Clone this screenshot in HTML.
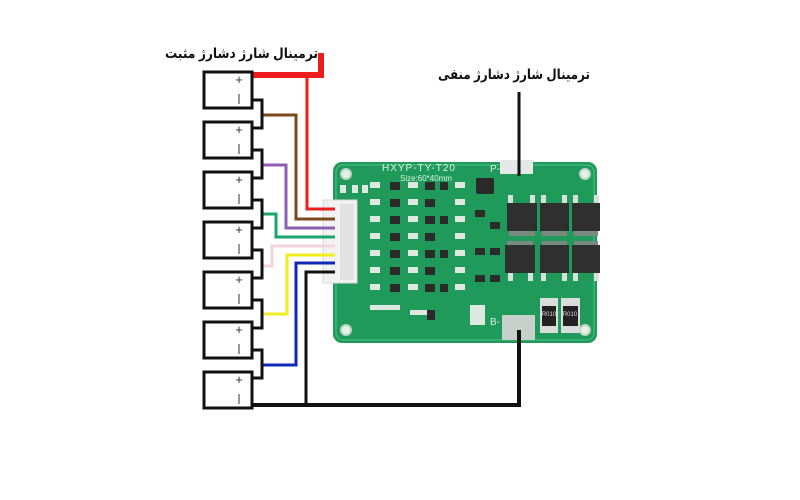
<!DOCTYPE html>
<html><head><meta charset="utf-8"><style>
html,body{margin:0;padding:0;background:#fff;width:800px;height:500px;overflow:hidden}
svg{display:block}
text{font-family:"Liberation Sans","DejaVu Sans",sans-serif}
</style></head><body>
<svg width="800" height="500" viewBox="0 0 800 500" xmlns="http://www.w3.org/2000/svg">
<rect x="333" y="162" width="264" height="181" rx="9" fill="#1f9a5a"/>
<rect x="336" y="165" width="258" height="175" rx="7" fill="none" stroke="#4cc08a" stroke-width="1"/>
<circle cx="346" cy="174" r="5" fill="#e8efe8" stroke="#b9d6c2" stroke-width="2"/>
<circle cx="585" cy="174" r="5" fill="#e8efe8" stroke="#b9d6c2" stroke-width="2"/>
<circle cx="346" cy="330" r="5" fill="#e8efe8" stroke="#b9d6c2" stroke-width="2"/>
<circle cx="585" cy="330" r="5" fill="#e8efe8" stroke="#b9d6c2" stroke-width="2"/>
<text x="382" y="171" font-size="10" fill="#d8f0e0" letter-spacing="1">HXYP-TY-T20</text>
<text x="400" y="181" font-size="8" fill="#d8f0e0">Size:60*40mm</text>
<text x="490" y="172" font-size="10" fill="#d8f0e0">P-</text>
<text x="490" y="325" font-size="10" fill="#d8f0e0">B-</text>
<rect x="500" y="160" width="33" height="14" fill="#e4e8e6"/>
<rect x="502" y="315" width="33" height="25" fill="#c8d0cc"/>
<rect x="476" y="178" width="18" height="16" rx="2" fill="#2a2a2a"/>
<g fill="#dde8e0">
<rect x="370" y="182" width="10" height="6"/><rect x="370" y="199" width="10" height="6"/><rect x="370" y="216" width="10" height="6"/><rect x="370" y="233" width="10" height="6"/><rect x="370" y="250" width="10" height="6"/><rect x="370" y="267" width="10" height="6"/><rect x="370" y="284" width="10" height="6"/>
<rect x="408" y="182" width="10" height="6"/><rect x="408" y="199" width="10" height="6"/><rect x="408" y="216" width="10" height="6"/><rect x="408" y="233" width="10" height="6"/><rect x="408" y="250" width="10" height="6"/><rect x="408" y="267" width="10" height="6"/><rect x="408" y="284" width="10" height="6"/>
<rect x="455" y="182" width="10" height="6"/><rect x="455" y="199" width="10" height="6"/><rect x="455" y="216" width="10" height="6"/><rect x="455" y="233" width="10" height="6"/><rect x="455" y="250" width="10" height="6"/><rect x="455" y="267" width="10" height="6"/><rect x="455" y="284" width="10" height="6"/>
<rect x="340" y="185" width="6" height="8"/><rect x="352" y="185" width="6" height="8"/><rect x="362" y="185" width="6" height="8"/>
<rect x="370" y="305" width="30" height="5"/><rect x="410" y="310" width="20" height="5"/><rect x="470" y="305" width="15" height="20"/>
</g>
<g fill="#2b2b2b">
<rect x="390" y="182" width="10" height="8"/><rect x="390" y="199" width="10" height="8"/><rect x="390" y="216" width="10" height="8"/><rect x="390" y="233" width="10" height="8"/><rect x="390" y="250" width="10" height="8"/><rect x="390" y="267" width="10" height="8"/><rect x="390" y="284" width="10" height="8"/>
<rect x="425" y="182" width="10" height="8"/><rect x="425" y="199" width="10" height="8"/><rect x="425" y="216" width="10" height="8"/><rect x="425" y="233" width="10" height="8"/><rect x="425" y="250" width="10" height="8"/><rect x="425" y="267" width="10" height="8"/><rect x="425" y="284" width="10" height="8"/>
<rect x="440" y="182" width="8" height="8"/><rect x="440" y="216" width="8" height="8"/><rect x="440" y="250" width="8" height="8"/><rect x="440" y="284" width="8" height="8"/>
<rect x="475" y="210" width="10" height="7"/><rect x="490" y="222" width="10" height="7"/><rect x="475" y="248" width="10" height="7"/><rect x="490" y="248" width="10" height="7"/><rect x="475" y="275" width="10" height="7"/><rect x="490" y="275" width="10" height="7"/><rect x="427" y="310" width="8" height="10"/>
</g>
<g fill="#2f2f2f">
<rect x="507" y="203" width="30" height="28"/><rect x="540" y="203" width="29" height="28"/><rect x="572" y="203" width="28" height="28"/>
<rect x="505" y="245" width="30" height="28"/><rect x="540" y="245" width="29" height="28"/><rect x="572" y="245" width="28" height="28"/>
</g>
<g fill="#7a8a80">
<rect x="509" y="231" width="26" height="5"/><rect x="542" y="231" width="25" height="5"/><rect x="574" y="231" width="24" height="5"/>
<rect x="507" y="241" width="26" height="4"/><rect x="542" y="241" width="25" height="4"/><rect x="574" y="241" width="24" height="4"/>
</g>
<g fill="#d8e0dc">
<rect x="508" y="195" width="5" height="8"/><rect x="530" y="195" width="5" height="8"/><rect x="541" y="195" width="5" height="8"/><rect x="562" y="195" width="5" height="8"/><rect x="573" y="195" width="5" height="8"/><rect x="594" y="195" width="5" height="8"/>
<rect x="508" y="273" width="5" height="8"/><rect x="528" y="273" width="5" height="8"/><rect x="541" y="273" width="5" height="8"/><rect x="562" y="273" width="5" height="8"/><rect x="573" y="273" width="5" height="8"/><rect x="594" y="273" width="5" height="8"/>
</g>
<rect x="540" y="298" width="18" height="35" fill="#d8dcda"/><rect x="542" y="306" width="14" height="20" fill="#222"/>
<rect x="561" y="298" width="19" height="35" fill="#d8dcda"/><rect x="563" y="306" width="15" height="20" fill="#222"/>
<text x="549" y="316" font-size="6" fill="#ddd" text-anchor="middle">R010</text>
<text x="570" y="316" font-size="6" fill="#ddd" text-anchor="middle">R010</text>
<rect x="323" y="200" width="34" height="83" fill="#f2f2f2" stroke="#d8d8d8"/>
<rect x="340" y="204" width="14" height="76" fill="#e2e2e2"/>
<g fill="none" stroke-width="3">
<polyline points="307,73 307,209 335,209" stroke="#ee1c1c"/>
<polyline points="262,115 296,115 296,219 335,219" stroke="#7b4a1a"/>
<polyline points="262,165 286,165 286,228 335,228" stroke="#8e5fb0"/>
<polyline points="262,214 276,214 276,237 335,237" stroke="#1aa56e"/>
<polyline points="262,266 272,266 272,246 335,246" stroke="#f3d6dc"/>
<polyline points="262,314 287,314 287,255 335,255" stroke="#f2ee1e"/>
<polyline points="262,365 296,365 296,263 335,263" stroke="#1028b8"/>
<polyline points="306,405 306,272 335,272" stroke="#111"/>
</g>
<polyline points="253,75 321,75 321,53" fill="none" stroke="#ee1c1c" stroke-width="6"/>
<polyline points="253,405 519,405 519,330" fill="none" stroke="#111" stroke-width="4"/>
<line x1="519" y1="92" x2="519" y2="176" stroke="#111" stroke-width="3"/>
<g fill="none" stroke="#111" stroke-width="3">
<polyline points="253,100 262,100 262,128 253,128"/>
<polyline points="253,150 262,150 262,178 253,178"/>
<polyline points="253,200 262,200 262,228 253,228"/>
<polyline points="253,250 262,250 262,278 253,278"/>
<polyline points="253,300 262,300 262,328 253,328"/>
<polyline points="253,350 262,350 262,378 253,378"/>
</g>
<g fill="#fff" stroke="#111" stroke-width="3">
<rect x="204" y="72" width="48" height="36"/><rect x="204" y="122" width="48" height="36"/><rect x="204" y="172" width="48" height="36"/><rect x="204" y="222" width="48" height="36"/><rect x="204" y="272" width="48" height="36"/><rect x="204" y="322" width="48" height="36"/><rect x="204" y="372" width="48" height="36"/>
</g>
<g font-size="13" fill="#333" text-anchor="middle">
<text x="239" y="84">+</text><text x="239" y="134">+</text><text x="239" y="184">+</text><text x="239" y="234">+</text><text x="239" y="284">+</text><text x="239" y="334">+</text><text x="239" y="384">+</text>
</g>
<g stroke="#333" stroke-width="1">
<line x1="239" y1="94" x2="239" y2="104"/><line x1="239" y1="144" x2="239" y2="154"/><line x1="239" y1="194" x2="239" y2="204"/><line x1="239" y1="244" x2="239" y2="254"/><line x1="239" y1="294" x2="239" y2="304"/><line x1="239" y1="344" x2="239" y2="354"/><line x1="239" y1="394" x2="239" y2="404"/>
</g>
<text x="165" y="58" font-size="14" font-weight="bold" fill="#111" textLength="153" lengthAdjust="spacingAndGlyphs" font-family="'DejaVu Sans',sans-serif">ترمینال شارژ دشارژ مثبت</text>
<text x="438" y="79" font-size="14" font-weight="bold" fill="#111" textLength="152" lengthAdjust="spacingAndGlyphs" font-family="'DejaVu Sans',sans-serif">ترمینال شارژ دشارژ منفی</text>
</svg>
</body></html>
